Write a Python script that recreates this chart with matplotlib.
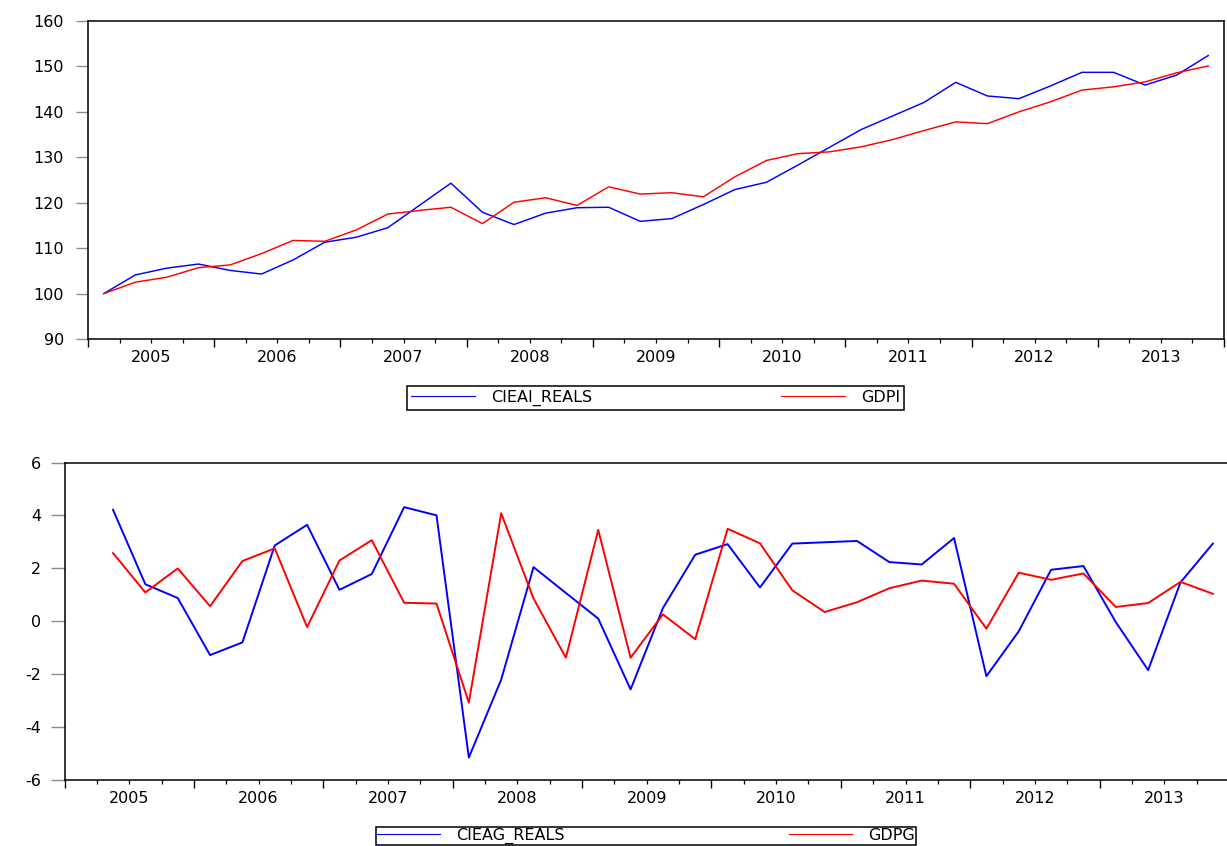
import matplotlib
matplotlib.use("Agg")
import matplotlib.pyplot as plt
from matplotlib.ticker import FixedLocator, FixedFormatter

# ---------------- data ----------------
years = [2005, 2006, 2007, 2008, 2009, 2010, 2011, 2012, 2013]

# index levels, 2005Q1 .. 2013Q4
cieai_reals = [100.0, 104.1, 105.6, 106.5, 105.1, 104.3, 107.4, 111.3, 112.4,
               114.5, 119.4, 124.3, 117.9, 115.2, 117.7, 118.9, 119.0, 115.9,
               116.5, 119.6, 122.9, 124.5, 128.3, 132.2, 136.1, 139.1, 142.1,
               146.5, 143.5, 142.9, 145.7, 148.7, 148.7, 145.9, 148.1, 152.4]
gdpi = [100.0, 102.5, 103.6, 105.7, 106.3, 108.8, 111.7, 111.5, 114.0,
        117.5, 118.3, 119.0, 115.4, 120.1, 121.1, 119.4, 123.5, 121.9,
        122.2, 121.3, 125.7, 129.3, 130.8, 131.2, 132.3, 133.9, 135.9,
        137.8, 137.4, 140.0, 142.2, 144.8, 145.5, 146.6, 148.6, 150.1]

# quarterly growth rates (%), 2005Q2 .. 2013Q4
cieag_reals = [4.21, 1.39, 0.87, -1.29, -0.81, 2.86, 3.64, 1.18, 1.78, 4.31,
               4.00, -5.17, -2.22, 2.04, 1.06, 0.09, -2.59, 0.49, 2.51, 2.91,
               1.27, 2.93, 2.98, 3.03, 2.23, 2.14, 3.14, -2.09, -0.39, 1.94,
               2.08, -0.04, -1.86, 1.46, 2.93]
gdpg = [2.57, 1.08, 1.99, 0.56, 2.27, 2.75, -0.23, 2.29, 3.06, 0.69,
        0.66, -3.09, 4.08, 0.85, -1.39, 3.45, -1.39, 0.25, -0.69, 3.49,
        2.94, 1.16, 0.34, 0.71, 1.24, 1.53, 1.41, -0.29, 1.83, 1.56,
        1.80, 0.53, 0.68, 1.48, 1.03]

top_yticks = [90, 100, 110, 120, 130, 140, 150, 160]
bot_yticks = [-6, -4, -2, 0, 2, 4, 6]

# ---------------- figure ----------------
W, H = 1227, 846
fig = plt.figure(figsize=(W / 100, H / 100), dpi=100)
FONT = "DejaVu Sans"
FS = 11.5
BLUE = "#0000ff"
RED = "#ff0000"

nq = 4 * len(years)
x_top = [i + 0.5 for i in range(len(cieai_reals))]
x_bot = [i + 1.5 for i in range(len(cieag_reals))]


def px_axes(left, top, right, bottom):
    return fig.add_axes([left / W, 1 - bottom / H, (right - left) / W, (bottom - top) / H])


def style(ax, yticks, ytick_len, ytick_pad):
    ax.set_xlim(0, nq)
    ax.set_ylim(yticks[0], yticks[-1])
    ax.set_yticks(yticks)
    ax.set_yticklabels([str(v) for v in yticks], fontsize=FS, family=FONT)
    ax.tick_params(axis="y", direction="out", length=ytick_len, width=1.0,
                   color="#8c8c8c", pad=ytick_pad)
    major = list(range(0, nq + 1, 4))
    minor = [q for q in range(1, nq) if q % 4 != 0]
    ax.xaxis.set_major_locator(FixedLocator(major))
    ax.xaxis.set_major_formatter(FixedFormatter([""] * len(major)))
    ax.xaxis.set_minor_locator(FixedLocator(minor))
    labels = [str(years[q // 4]) if q % 4 == 2 else "" for q in minor]
    ax.xaxis.set_minor_formatter(FixedFormatter(labels))
    ax.tick_params(axis="x", which="major", direction="out", length=5.5, width=1.0,
                   color="black")
    ax.tick_params(axis="x", which="minor", direction="out", length=3, width=0.9,
                   color="black", pad=5, labelsize=FS)
    for lab in ax.get_xticklabels(minor=True):
        lab.set_family(FONT)
    for s in ax.spines.values():
        s.set_linewidth(1.1)
        s.set_color("black")


# top panel
ax1 = px_axes(88, 21, 1224, 339)
l1, = ax1.plot(x_top, cieai_reals, color=BLUE, lw=1.05, label="CIEAI_REALS")
l2, = ax1.plot(x_top, gdpi, color=RED, lw=1.05, label="GDPI")
style(ax1, top_yticks, 8.6, 8.6)

# bottom panel
ax2 = px_axes(64.5, 462.5, 1229, 779.5)
l3, = ax2.plot(x_bot, cieag_reals, color=BLUE, lw=1.4, label="CIEAG_REALS")
l4, = ax2.plot(x_bot, gdpg, color=RED, lw=1.4, label="GDPG")
style(ax2, bot_yticks, 10, 7)


def legend(handles, left, top, right, borderpad):
    leg = fig.legend(handles=handles, loc="upper left",
                     bbox_to_anchor=(left / W, 1 - top / H, (right - left) / W, 0),
                     mode="expand", ncol=2, frameon=True, fancybox=False,
                     edgecolor="black", framealpha=1, borderaxespad=0,
                     borderpad=borderpad, handlelength=4.0, handletextpad=1.0,
                     prop={"family": FONT, "size": FS})
    leg.get_frame().set_linewidth(1.1)
    for h in leg.legend_handles:
        h.set_linewidth(0.8)
    return leg


legend([l1, l2], 407, 386, 904, 0.25)
legend([l3, l4], 375.5, 827, 916, 0.05)

fig.savefig("out.png", dpi=100)
